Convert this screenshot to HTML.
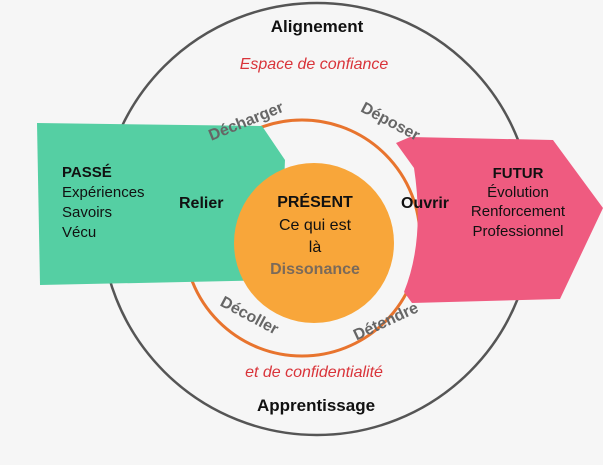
<!DOCTYPE html>
<html><head><meta charset="utf-8"><style>
html,body{margin:0;padding:0;background:#f6f6f6;}
svg{display:block}
text{font-family:"Liberation Sans",sans-serif;}
</style></head><body>
<svg width="603" height="465" viewBox="0 0 603 465" xmlns="http://www.w3.org/2000/svg">
<rect width="603" height="465" fill="#f6f6f6"/>
<circle cx="317" cy="219" r="216" fill="none" stroke="#555" stroke-width="2.5"/>
<circle cx="302" cy="238" r="118" fill="none" stroke="#e8742e" stroke-width="3"/>
<path d="M37 123 L262 126 L285 160 L280 280 L40 285 Z" fill="#55cfa3"/>
<path d="M396 143 L410 137 L553 140 L603 208 L560 299 L412 303 L404 292 Q425 240 414 168 Z" fill="#ef5b80"/>
<circle cx="314" cy="243" r="80" fill="#f8a63a"/>
<text x="317" y="32" text-anchor="middle" font-size="17" font-weight="bold" fill="#111">Alignement</text>
<text x="314" y="69" text-anchor="middle" font-size="16" fill="#d9343a" font-style="italic">Espace de confiance</text>
<text x="314" y="377" text-anchor="middle" font-size="16" fill="#d9343a" font-style="italic">et de confidentialité</text>
<text x="316" y="411" text-anchor="middle" font-size="17" font-weight="bold" fill="#111">Apprentissage</text>
<text x="62" y="177" font-size="15" font-weight="bold" fill="#111">PASSÉ</text>
<text x="62" y="197" font-size="15" fill="#111">Expériences</text>
<text x="62" y="217" font-size="15" fill="#111">Savoirs</text>
<text x="62" y="237" font-size="15" fill="#111">Vécu</text>
<text x="179" y="208" font-size="16" font-weight="bold" fill="#111">Relier</text>
<text x="315" y="207" text-anchor="middle" font-size="16" font-weight="bold" fill="#111">PRÉSENT</text>
<text x="315" y="230" text-anchor="middle" font-size="16" fill="#111">Ce qui est</text>
<text x="315" y="252" text-anchor="middle" font-size="16" fill="#111">là</text>
<text x="315" y="274" text-anchor="middle" font-size="16" font-weight="bold" fill="#7a6a5a">Dissonance</text>
<text x="401" y="208" font-size="16" font-weight="bold" fill="#111">Ouvrir</text>
<text x="518" y="178" text-anchor="middle" font-size="15" font-weight="bold" fill="#111">FUTUR</text>
<text x="518" y="197" text-anchor="middle" font-size="15" fill="#111">Évolution</text>
<text x="518" y="216" text-anchor="middle" font-size="15" fill="#111">Renforcement</text>
<text x="518" y="236" text-anchor="middle" font-size="15" fill="#111">Professionnel</text>
<text x="248" y="126" text-anchor="middle" font-size="16" font-weight="bold" fill="#666" transform="rotate(-22 248 126)">Décharger</text>
<text x="388" y="126" text-anchor="middle" font-size="16" font-weight="bold" fill="#666" transform="rotate(28 388 126)">Déposer</text>
<text x="247" y="320" text-anchor="middle" font-size="16" font-weight="bold" fill="#666" transform="rotate(28 247 320)">Décoller</text>
<text x="388" y="326" text-anchor="middle" font-size="16" font-weight="bold" fill="#666" transform="rotate(-25 388 326)">Détendre</text>
</svg>
</body></html>
